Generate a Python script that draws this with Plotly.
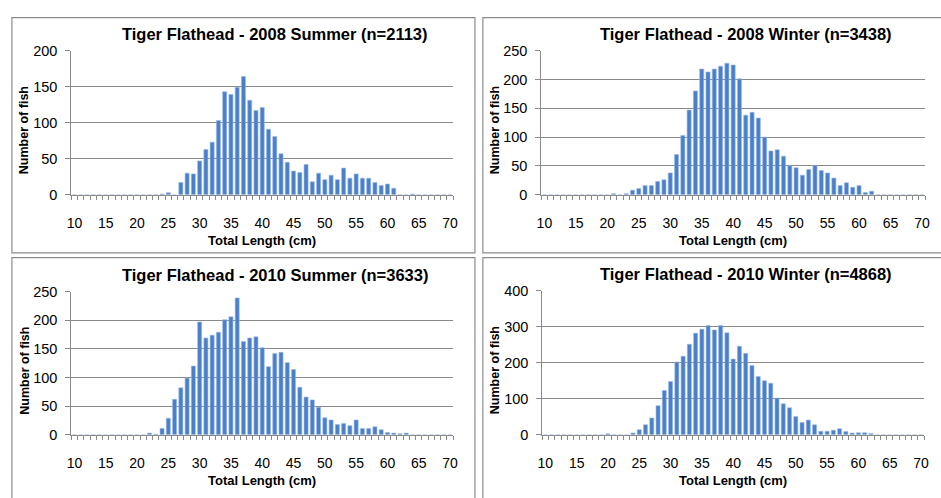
import plotly.graph_objects as go

# Length classes (cm) shared by all four panels
lengths = list(range(10, 71))

# Counts per 1 cm length class, keyed by first length with non-zero data
summer_2008_start = 24
summer_2008 = [1, 3, 0, 17, 30, 29, 47, 63, 73, 103, 143, 139, 149, 164, 131, 117,
               121, 91, 81, 57, 45, 33, 31, 42, 18, 30, 21, 27, 21, 37, 23, 29,
               23, 23, 17, 13, 15, 9, 0, 0, 1]

winter_2008_start = 21
winter_2008 = [2, 0, 2, 8, 11, 16, 16, 23, 26, 38, 70, 103, 147, 180, 218, 213,
               218, 223, 228, 225, 201, 138, 143, 133, 100, 76, 78, 67, 51, 47,
               34, 44, 51, 42, 38, 29, 16, 21, 13, 16, 4, 6]

summer_2010_start = 22
summer_2010 = [3, 1, 11, 29, 62, 82, 99, 120, 197, 169, 174, 179, 201, 206, 239,
               163, 169, 171, 152, 119, 142, 144, 126, 114, 83, 66, 61, 48, 30,
               26, 18, 20, 16, 26, 11, 11, 14, 9, 4, 3, 2, 3]

winter_2010_start = 20
winter_2010 = [3, 0, 0, 0, 5, 14, 28, 47, 81, 123, 148, 202, 218, 251, 282, 293,
               303, 291, 303, 283, 210, 246, 226, 192, 162, 150, 143, 102, 86,
               75, 51, 34, 41, 28, 10, 10, 13, 17, 9, 5, 6, 6, 4]

titles = ["Tiger Flathead - 2008 Summer (n=2113)",
          "Tiger Flathead - 2008 Winter (n=3438)",
          "Tiger Flathead - 2010 Summer (n=3633)",
          "Tiger Flathead - 2010 Winter (n=4868)"]
y_max = [200, 250, 250, 400]
y_step = [50, 50, 50, 100]
x_tick_vals = list(range(10, 71, 5))
x_tick_text = [str(v) for v in x_tick_vals]

W, H = 941, 498


def px(x):
    return x / W


def py(y):
    return 1 - y / H


def full_series(start, counts):
    vals = [0] * len(lengths)
    for i, c in enumerate(counts):
        vals[start - lengths[0] + i] = c
    return vals


series = [full_series(summer_2008_start, summer_2008),
          full_series(winter_2008_start, winter_2008),
          full_series(summer_2010_start, summer_2010),
          full_series(winter_2010_start, winter_2010)]

# Plot-area pixel boxes: (left, right, top, bottom)
plot_boxes = [(67, 453, 44, 193), (542, 930, 44, 193),
              (67, 453, 293, 441), (543, 929, 292, 441)]
# Chart frames: (left, right, top, bottom)
frames = [(7, 475, 10, 253), (483, 950, 10, 253),
          (7, 475, 258, 510), (483, 950, 258, 510)]

FONT = "Liberation Sans"
GRID = "#8a8a8a"

fig = go.Figure()
annotations = []
shapes = []

for i in range(4):
    n = "" if i == 0 else str(i + 1)
    left, right, top, bottom = plot_boxes[i]
    fig.add_trace(go.Bar(
        x=lengths, y=series[i], xaxis="x" + n, yaxis="y" + n,
        marker=dict(color="#4a7fca", line=dict(color="#9cbbe6", width=0.6)),
        showlegend=False,
    ))
    fig.update_layout({
        "xaxis" + n: dict(
            domain=[px(left), px(right)], anchor="y" + n,
            range=[9.5, 70.5], tickvals=x_tick_vals, ticktext=x_tick_text,
            ticks="outside", ticklen=0, tickcolor=GRID,
            ticklabelstandoff=15,
            minor=dict(ticks="outside", ticklen=4, dtick=1, tick0=9.5,
                       tickcolor=GRID, tickwidth=1, showgrid=False),
            showline=True, linecolor=GRID, linewidth=1, showgrid=False,
            zeroline=False, fixedrange=True,
            tickfont=dict(family=FONT, size=14, color="#000000"),
        ),
        "yaxis" + n: dict(
            domain=[py(bottom), py(top)], anchor="x" + n,
            range=[0, y_max[i]], dtick=y_step[i], tick0=0,
            ticks="outside", ticklen=5, tickcolor=GRID,
            ticklabelstandoff=5,
            showline=True, linecolor=GRID, linewidth=1,
            showgrid=True, gridcolor=GRID, gridwidth=1,
            zeroline=False, fixedrange=True,
            tickfont=dict(family=FONT, size=14.5, color="#000000"),
        ),
    })
    fl, fr, ft, fb = frames[i]
    shapes.append(dict(type="rect", xref="paper", yref="paper",
                       x0=px(fl), x1=px(fr), y0=py(fb), y1=py(ft),
                       line=dict(color="#8c8c8c", width=1.2),
                       fillcolor="rgba(0,0,0,0)", layer="below"))
    cx = (left + right) / 2
    annotations.append(dict(text="<b>%s</b>" % titles[i], xref="paper", yref="paper",
                            x=px(cx + 13), y=py(top - 17), xanchor="center",
                            yanchor="middle", showarrow=False,
                            font=dict(family=FONT, size=16.5, color="#000000")))
    annotations.append(dict(text="<b>Total Length (cm)</b>", xref="paper", yref="paper",
                            x=px(cx), y=py(bottom + 47), xanchor="center",
                            yanchor="middle", showarrow=False,
                            font=dict(family=FONT, size=13, color="#000000")))
    annotations.append(dict(text="<b>Number of fish</b>", xref="paper", yref="paper",
                            x=px(fl + 13), y=py((top + bottom) / 2 + 8), xanchor="center",
                            yanchor="middle", showarrow=False, textangle=-90,
                            font=dict(family=FONT, size=12.5, color="#000000")))

fig.update_layout(
    width=W, height=H, margin=dict(l=0, r=0, t=0, b=0),
    paper_bgcolor="white", plot_bgcolor="white",
    bargap=0.35, annotations=annotations, shapes=shapes,
)

fig.write_html("out.html")
